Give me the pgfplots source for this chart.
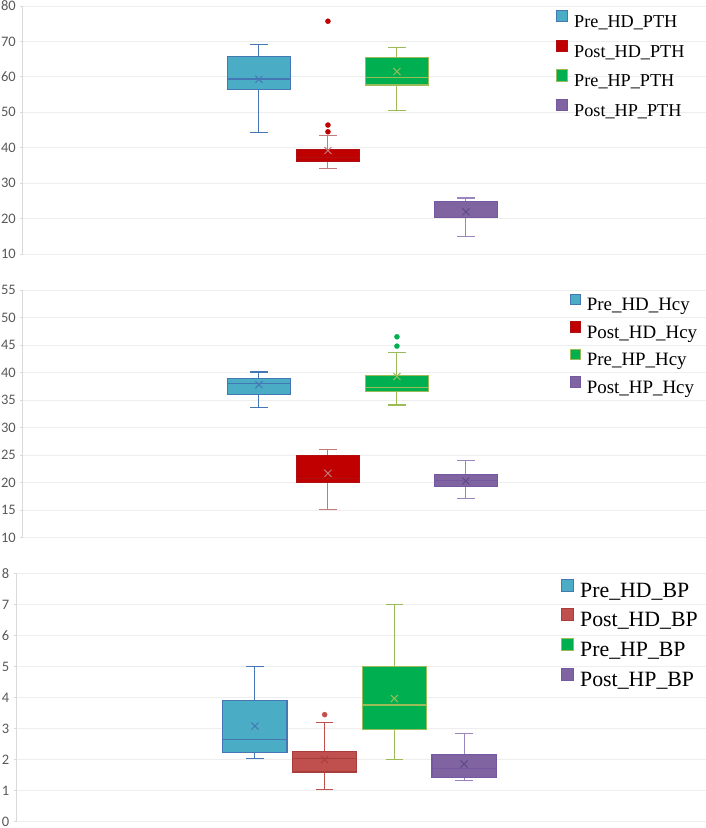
\documentclass[border=0pt]{standalone}
\usepackage{pgfplots}
\pgfplotsset{compat=1.18}
\usepgfplotslibrary{statistics}
\usepackage{fontspec}
\setmainfont{Liberation Serif}
\newfontfamily\carlito{Carlito}
\definecolor{preHDf}{HTML}{4BACC6}
\definecolor{preHDd}{HTML}{4677B5}
\definecolor{postHDf}{HTML}{C00000}
\definecolor{postHDd}{HTML}{B01010}
\definecolor{postHDw}{HTML}{C47A7A}
\definecolor{postHDf3}{HTML}{C0504D}
\definecolor{postHDd3}{HTML}{A83E3B}
\definecolor{preHPf}{HTML}{00B050}
\definecolor{preHPd}{HTML}{9BBB59}
\definecolor{postHPf}{HTML}{8064A2}
\definecolor{postHPd}{HTML}{7559A0}
\definecolor{postHPw}{HTML}{9C85BF}
\definecolor{postHPx}{HTML}{5E4A88}
\definecolor{gridc}{HTML}{EEEEEE}
\definecolor{axc}{HTML}{D9D9D9}
\definecolor{tickc}{HTML}{595959}
\pgfplotsset{
  bx/.style n args={3}{
    boxplot/every box/.style={draw=#2, fill=#1, line width=1.1pt},
    boxplot/every median/.style={draw=#2, line width=1.1pt},
    boxplot/every whisker/.style={draw=#3, line width=1.1pt},
    mark=*, mark size=2.6pt, mark options={fill=#1, draw=#1, line width=0.2pt},
    forget plot,
  },
  avg/.style={only marks, mark=x, mark size=5pt, color=#1, line width=1pt, forget plot},
  panel/.style={
    scale only axis,
    boxplot/draw direction=y,
    xtick=\empty,
    axis y line*=left, axis x line=none,
    y axis line style={draw=axc, line width=1pt},
    ymajorgrids, major grid style={draw=gridc, line width=0.9pt},
    tick align=outside, major tick length=3pt,
    ytick style={draw=axc, line width=0.9pt},
    yticklabel style={font=\carlito\fontsize{14.5}{14.5}\selectfont, text=tickc, inner sep=0pt, xshift=-4pt},
    /pgf/number format/assume math mode=true,
    legend cell align=left,
    clip=false,
  },
}
\begin{document}
\begin{tikzpicture}
\useasboundingbox (0,0) rectangle (706pt,828pt);
% ---------------- Panel 1: PTH
\begin{axis}[panel, at={(23pt,574pt)}, anchor=south west,
  width=683pt, height=248pt,
  xmin=-2.42, xmax=7.48, ymin=10, ymax=80, ytick={10,20,...,80},
  legend image code/.code={\draw[#1] (0pt,1.5pt) rectangle (11.5pt,13pt);},
  legend style={at={(0.78,0.985)}, anchor=north west, draw=none, fill=none,
    font=\fontsize{18.2}{21}\selectfont, inner sep=0pt, row sep=6pt, column sep=5pt,
    nodes={inner sep=1pt, text height=13.5pt, text depth=5pt}},
]
\addplot[bx={preHDf}{preHDd}{preHDd}, boxplot prepared={lower whisker=44.4, lower quartile=56.5, median=59.4, upper quartile=65.7, upper whisker=69.1, draw position=1, box extend=0.91, whisker extend=0.25}] coordinates {};
\addplot[bx={postHDf}{postHDd}{postHDw}, boxplot prepared={lower whisker=34.2, lower quartile=36.1, median=37.3, upper quartile=39.5, upper whisker=43.5, draw position=2, box extend=0.91, whisker extend=0.25}] table[row sep=\\, y index=0] {y\\ 75.7\\ 46.4\\ 44.5\\};
\addplot[bx={preHPf}{preHPd}{preHPd}, boxplot prepared={lower whisker=50.5, lower quartile=57.7, median=59.8, upper quartile=65.4, upper whisker=68.3, draw position=3, box extend=0.91, whisker extend=0.25}] coordinates {};
\addplot[bx={postHPf}{postHPd}{postHPw}, boxplot prepared={lower whisker=14.9, lower quartile=20.2, median=20.4, upper quartile=24.9, upper whisker=25.8, draw position=4, box extend=0.91, whisker extend=0.25}] coordinates {};
\addplot[avg=preHDd] coordinates {(1,59.3)};
\addplot[avg=postHDw] coordinates {(2,39.2)};
\addplot[avg=preHPd] coordinates {(3,61.5)};
\addplot[avg=postHPx] coordinates {(4,21.9)};
\addlegendimage{fill=preHDf, draw=preHDd, line width=0.8pt}
\addlegendentry{Pre\_HD\_PTH}
\addlegendimage{fill=postHDf, draw=postHDd, line width=0.8pt}
\addlegendentry{Post\_HD\_PTH}
\addlegendimage{fill=preHPf, draw=preHPd, line width=0.8pt}
\addlegendentry{Pre\_HP\_PTH}
\addlegendimage{fill=postHPf, draw=postHPd, line width=0.8pt}
\addlegendentry{Post\_HP\_PTH}
\end{axis}
% ---------------- Panel 2: Hcy
\begin{axis}[panel, at={(23pt,290.3pt)}, anchor=south west,
  width=683pt, height=247.7pt,
  xmin=-2.42, xmax=7.48, ymin=10, ymax=55, ytick={10,15,...,55},
  legend image code/.code={\draw[#1] (0pt,1.5pt) rectangle (10.5pt,12pt);},
  legend style={at={(0.80,0.985)}, anchor=north west, draw=none, fill=none,
    font=\fontsize{18.9}{22}\selectfont, inner sep=0pt, row sep=5pt, column sep=5pt,
    nodes={inner sep=1pt, text height=13.5pt, text depth=4.5pt}},
]
\addplot[bx={preHDf}{preHDd}{preHDd}, boxplot prepared={lower whisker=33.7, lower quartile=36.0, median=38.0, upper quartile=39.0, upper whisker=40.1, draw position=1, box extend=0.91, whisker extend=0.25}] coordinates {};
\addplot[bx={postHDf}{postHDd}{postHDw}, boxplot prepared={lower whisker=15.1, lower quartile=20.1, median=20.7, upper quartile=25.0, upper whisker=26.0, draw position=2, box extend=0.91, whisker extend=0.25}] coordinates {};
\addplot[bx={preHPf}{preHPd}{preHPd}, boxplot prepared={lower whisker=34.1, lower quartile=36.5, median=37.3, upper quartile=39.4, upper whisker=43.6, draw position=3, box extend=0.91, whisker extend=0.25}] table[row sep=\\, y index=0] {y\\ 46.5\\ 44.8\\};
\addplot[bx={postHPf}{postHPd}{postHPw}, boxplot prepared={lower whisker=17.2, lower quartile=19.3, median=20.4, upper quartile=21.5, upper whisker=24.1, draw position=4, box extend=0.91, whisker extend=0.25}] coordinates {};
\addplot[avg=preHDd] coordinates {(1,37.8)};
\addplot[avg=postHDw] coordinates {(2,21.7)};
\addplot[avg=preHPd] coordinates {(3,39.3)};
\addplot[avg=postHPx] coordinates {(4,20.3)};
\addlegendimage{fill=preHDf, draw=preHDd, line width=0.8pt}
\addlegendentry{Pre\_HD\_Hcy}
\addlegendimage{fill=postHDf, draw=postHDd, line width=0.8pt}
\addlegendentry{Post\_HD\_Hcy}
\addlegendimage{fill=preHPf, draw=preHPd, line width=0.8pt}
\addlegendentry{Pre\_HP\_Hcy}
\addlegendimage{fill=postHPf, draw=postHPd, line width=0.8pt}
\addlegendentry{Post\_HP\_Hcy}
\end{axis}
% ---------------- Panel 3: BP
\begin{axis}[panel, at={(16.5pt,6.3pt)}, anchor=south west,
  width=689.5pt, height=248.3pt,
  xmin=-2.42, xmax=7.47, ymin=0, ymax=8, ytick={0,1,...,8},
  legend image code/.code={\draw[#1] (0pt,1.5pt) rectangle (12pt,13.5pt);},
  legend style={at={(0.79,0.98)}, anchor=north west, draw=none, fill=none,
    font=\fontsize{21.8}{25}\selectfont, inner sep=0pt, row sep=4.5pt, column sep=5pt,
    nodes={inner sep=1pt, text height=15pt, text depth=5.5pt}},
]
\addplot[bx={preHDf}{preHDd}{preHDd}, boxplot prepared={lower whisker=2.04, lower quartile=2.24, median=2.65, upper quartile=3.9, upper whisker=5.0, draw position=1, box extend=0.92, whisker extend=0.25}] coordinates {};
\addplot[bx={postHDf3}{postHDd3}{postHDf3}, boxplot prepared={lower whisker=1.03, lower quartile=1.6, median=2.04, upper quartile=2.27, upper whisker=3.19, draw position=2, box extend=0.92, whisker extend=0.25}] table[row sep=\\, y index=0] {y\\ 3.45\\};
\addplot[bx={preHPf}{preHPd}{preHPd}, boxplot prepared={lower whisker=2.0, lower quartile=2.97, median=3.76, upper quartile=5.0, upper whisker=7.0, draw position=3, box extend=0.92, whisker extend=0.25}] coordinates {};
\addplot[bx={postHPf}{postHPd}{postHPw}, boxplot prepared={lower whisker=1.33, lower quartile=1.43, median=1.7, upper quartile=2.16, upper whisker=2.85, draw position=4, box extend=0.92, whisker extend=0.25}] coordinates {};
\addplot[avg=preHDd] coordinates {(1,3.08)};
\addplot[avg=postHDd3] coordinates {(2,2.0)};
\addplot[avg=preHPd] coordinates {(3,3.97)};
\addplot[avg=postHPx] coordinates {(4,1.86)};
\addlegendimage{fill=preHDf, draw=preHDd, line width=0.8pt}
\addlegendentry{Pre\_HD\_BP}
\addlegendimage{fill=postHDf3, draw=postHDd3, line width=0.8pt}
\addlegendentry{Post\_HD\_BP}
\addlegendimage{fill=preHPf, draw=preHPd, line width=0.8pt}
\addlegendentry{Pre\_HP\_BP}
\addlegendimage{fill=postHPf, draw=postHPd, line width=0.8pt}
\addlegendentry{Post\_HP\_BP}
\end{axis}
\end{tikzpicture}
\end{document}
